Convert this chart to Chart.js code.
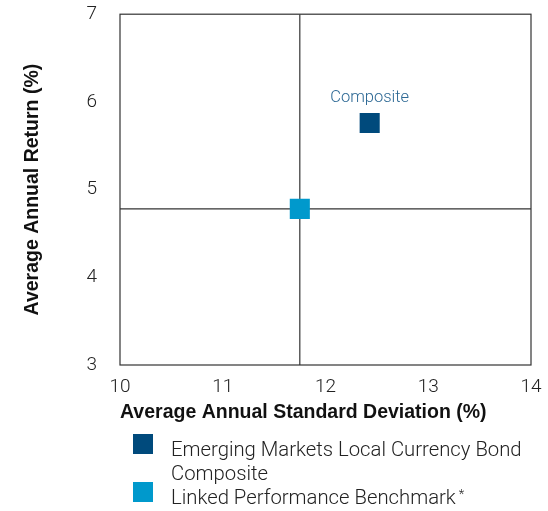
<!DOCTYPE html>
<html>
<head>
<meta charset="utf-8">
<script src="https://cdn.jsdelivr.net/npm/chart.js@4/dist/chart.umd.min.js"></script>
<style>
  body { margin: 0; background: #fff; }
  #wrap { position: relative; width: 548px; height: 511px; }
  #legend { position: absolute; left: 133px; top: 437px; font-family: Roboto, "Liberation Sans", sans-serif; font-weight: 300; font-size: 20.3px; color: #222; }
  .item { position: relative; padding-left: 38px; line-height: 24px; width: 390px; }
  .sw { position: absolute; left: 0; top: -3px; width: 20px; height: 20px; }
  sup { font-size: 13px; vertical-align: 6px; line-height: 0; margin-left: 3px; }
</style>
</head>
<body>
<div id="wrap">
  <canvas id="myChart" width="548" height="511"></canvas>
  <div id="legend"></div>
</div>
<script>
// datos
var seriesNames = ['Emerging Markets Local Currency Bond Composite', 'Linked Performance Benchmark*'];
var seriesColors = ['#004a7c', '#0099cc'];
var stdDev = [12.43, 11.75];
var avgReturn = [5.76, 4.78];
var xTicks = [10, 11, 12, 13, 14];
var yTicks = [3, 4, 5, 6, 7];
var pointLabel = 'Composite';

var xMin = xTicks[0], xMax = xTicks[xTicks.length - 1];
var yMin = yTicks[0], yMax = yTicks[yTicks.length - 1];

var tickFont = { family: 'Roboto, "Liberation Sans", sans-serif', size: 19, weight: '300', lineHeight: 1 };
var titleFont = { family: '"Liberation Sans", Arial, sans-serif', size: 19.5, weight: 'bold' };

// caja alrededor del area y etiqueta del composite
var boxPlugin = {
  id: 'box',
  afterDatasetsDraw: function (chart) {
    var ctx = chart.ctx, a = chart.chartArea;
    ctx.save();
    ctx.strokeStyle = '#333';
    ctx.lineWidth = 1.2;
    ctx.strokeRect(a.left, a.top, a.right - a.left, a.bottom - a.top);
    var p = chart.getDatasetMeta(0).data[0];
    ctx.fillStyle = '#2c6894';
    ctx.font = '300 16.5px Roboto, sans-serif';
    ctx.textAlign = 'center';
    ctx.textBaseline = 'middle';
    ctx.fillText(pointLabel, p.x, p.y - 25);
    ctx.restore();
  }
};

var datasets = seriesNames.map(function (name, i) {
  return {
    label: name,
    data: [{ x: stdDev[i], y: avgReturn[i] }],
    backgroundColor: seriesColors[i],
    borderWidth: 0,
    pointStyle: 'rect',
    pointRadius: 14.2,
    pointHoverRadius: 14.2
  };
});
// lineas de referencia por el benchmark
datasets.push({
  type: 'line', label: 'h',
  data: [{ x: xMin, y: avgReturn[1] }, { x: xMax, y: avgReturn[1] }],
  borderColor: '#333', borderWidth: 1.2, pointRadius: 0
});
datasets.push({
  type: 'line', label: 'v',
  data: [{ x: stdDev[1], y: yMin }, { x: stdDev[1], y: yMax }],
  borderColor: '#333', borderWidth: 1.2, pointRadius: 0
});

var ctx = document.getElementById('myChart').getContext('2d');
var myChart = new Chart(ctx, {
  type: 'scatter',
  data: { datasets: datasets },
  options: {
    responsive: false,
    animation: false,
    layout: { padding: { top: 12, right: 17, bottom: 81, left: 0 } },
    plugins: { legend: { display: false }, tooltip: { enabled: false } },
    scales: {
      x: {
        type: 'linear', min: xMin, max: xMax,
        afterBuildTicks: function (s) { s.ticks = xTicks.map(function (v) { return { value: v }; }); },
        afterFit: function (s) { s.height = 65; s.paddingLeft = 0; s.paddingRight = 0; },
        grid: { display: false, drawTicks: false },
        border: { display: false },
        ticks: { font: tickFont, color: '#222', padding: 13 },
        title: { display: true, text: 'Average Annual Standard Deviation (%)', align: 'start', font: titleFont, color: '#111', padding: { top: 0, bottom: 6 } }
      },
      y: {
        type: 'linear', min: yMin, max: yMax,
        afterBuildTicks: function (s) { s.ticks = yTicks.map(function (v) { return { value: v }; }); },
        afterFit: function (s) { s.width = 120; s.paddingTop = 0; s.paddingBottom = 0; },
        grid: { display: false, drawTicks: false },
        border: { display: false },
        ticks: { font: tickFont, color: '#222', padding: 23 },
        title: { display: true, text: 'Average Annual Return (%)', font: titleFont, color: '#111', padding: { top: 21, bottom: 0 } }
      }
    }
  },
  plugins: [boxPlugin]
});

// leyenda
var legend = document.getElementById('legend');
seriesNames.forEach(function (name, i) {
  var d = document.createElement('div');
  d.className = 'item';
  var txt = name.replace(/\*$/, '<sup>*</sup>');
  d.innerHTML = '<span class="sw" style="background:' + seriesColors[i] + '"></span>' + txt;
  legend.appendChild(d);
});
</script>
</body>
</html>
